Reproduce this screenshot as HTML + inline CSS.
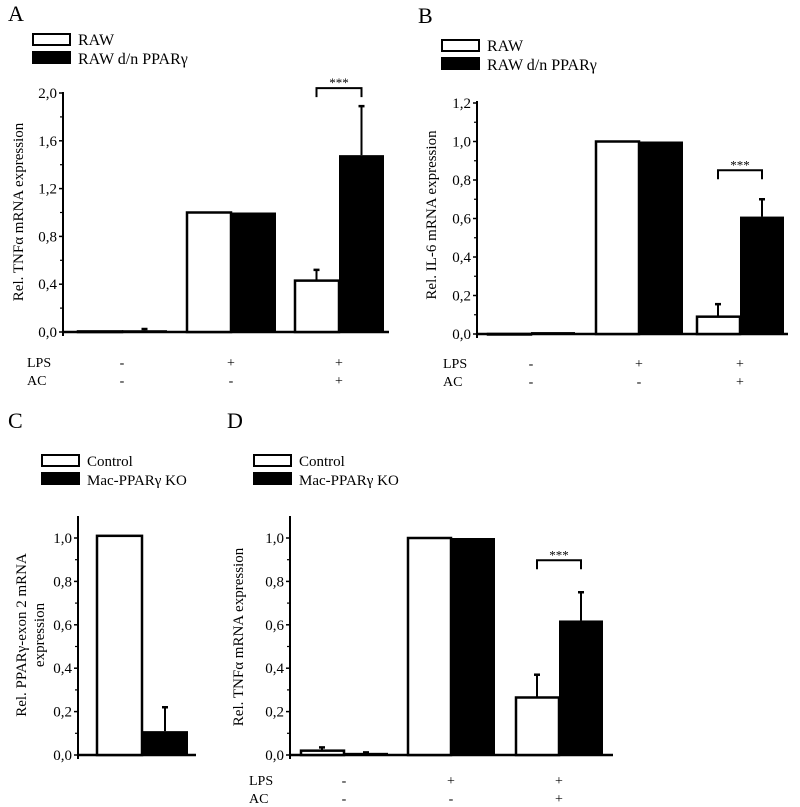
<!DOCTYPE html>
<html><head><meta charset="utf-8"><style>
body{margin:0;background:#fff}
svg{display:block;font-family:"Liberation Serif",serif}
</style></head><body>
<svg id="fig" width="800" height="807" viewBox="0 0 800 807" xmlns="http://www.w3.org/2000/svg"></svg>
<script>
// Panel A data
const aGroups = ["g1","g2","g3"];
const aWhite = [0.005, 1.0, 0.43];
const aWhiteErr = [0, 0, 0.52];
const aBlack = [0.015, 1.0, 1.48];
const aBlackErr = [0.025, 0, 1.89];
const aTicks = ["0,0","0,4","0,8","1,2","1,6","2,0"];
// Panel B data
const bWhite = [0, 1.0, 0.09];
const bWhiteErr = [0, 0, 0.155];
const bBlack = [0.01, 1.0, 0.61];
const bBlackErr = [0, 0, 0.70];
const bTicks = ["0,0","0,2","0,4","0,6","0,8","1,0","1,2"];
// Panel C data
const cWhite = [1.01];
const cWhiteErr = [0];
const cBlack = [0.11];
const cBlackErr = [0.22];
const cTicks = ["0,0","0,2","0,4","0,6","0,8","1,0"];
// Panel D data
const dWhite = [0.02, 1.0, 0.265];
const dWhiteErr = [0.035, 0, 0.37];
const dBlack = [0.01, 1.0, 0.62];
const dBlackErr = [0.012, 0, 0.75];
const dTicks = ["0,0","0,2","0,4","0,6","0,8","1,0"];
const lpsRow = ["-","+","+"];
const acRow = ["-","-","+"];

const svg = document.getElementById('fig');
const NS = "http://www.w3.org/2000/svg";
function mk(tag, attrs, parent){const e=document.createElementNS(NS,tag);for(const k in attrs)e.setAttribute(k,attrs[k]);(parent||svg).appendChild(e);return e;}
function txt(s, attrs, parent){const e=mk('text',attrs,parent);e.textContent=s;return e;}

function panel(p){
  const g = mk('g',{});
  
  
  const yScale = v => p.y0 - (v/p.tickStep)*p.tickPx;
  const L = txt(p.letter,{x:p.letterX,y:p.letterY,'font-size':22},g);
  
  
  const lw = mk('rect',{x:p.legX+1,y:p.legY+1,width:37,height:11,fill:'#fff',stroke:'#000','stroke-width':2},g);
  
  
  const lb = mk('rect',{x:p.legX,y:p.legY+18,width:39,height:13,fill:'#000'},g);
  
  
  const t1 = txt(p.leg1,{x:p.legX+46,y:p.legY+12,'font-size':p.legFs},g);
  
  
  const t2 = txt(p.leg2,{x:p.legX+46,y:p.legY+31,'font-size':p.legFs},g);
  
  
  const ya = mk('line',{x1:p.ax,y1:p.y0+4,x2:p.ax,y2:p.axTop,stroke:'#000','stroke-width':2},g);
  
  
  const xa = mk('line',{x1:p.ax,y1:p.y0,x2:p.axRight,y2:p.y0,stroke:'#000','stroke-width':2.5},g);
  
  
  p.ticks.forEach((t,i)=>{
    const y = p.y0 - i*p.tickPx;
    mk('line',{x1:p.ax-4,y1:y,x2:p.ax,y2:y,stroke:'#000','stroke-width':1.5},g);
    const tl = txt(t,{x:p.ax-6,y:y+5,'font-size':15,'text-anchor':'end'},g);
    
    
    if(i<p.ticks.length-1){const ym=y-p.tickPx/2;mk('line',{x1:p.ax-3,y1:ym,x2:p.ax,y2:ym,stroke:'#000','stroke-width':1.2},g);}
  });
  p.ylab.forEach((s,i)=>{
    const yt = txt(s,{x:0,y:0,'font-size':15,'text-anchor':'middle',transform:`translate(${p.ylabX+i*18},${p.ylabY}) rotate(-90)`},g);
    
    
  });
  function bar(v,err,x,black){
    const y=yScale(v);
    if(err>v){
      const ye=yScale(err);
      mk('line',{x1:x+p.bw/2,y1:y,x2:x+p.bw/2,y2:ye,stroke:'#000','stroke-width':2},g);
      mk('line',{x1:x+p.bw/2-3,y1:ye,x2:x+p.bw/2+3,y2:ye,stroke:'#000','stroke-width':2.5},g);
    }
    const r = mk('rect',{x:black?x:x+1,y:y,width:black?p.bw:p.bw-1,height:Math.max(p.y0-y,0.5),fill:black?'#000':'#fff',stroke:'#000','stroke-width':black?0:2.5},g);
    
    
  }
  p.white.forEach((v,i)=>{
    const x0 = p.gx[i];
    bar(v,p.whiteErr[i],x0,false);
    bar(p.black[i],p.blackErr[i],x0+p.bw,true);
  });
  if(p.sig!=null){
    const i=p.sig, x0=p.gx[i]+p.bw/2, x1=x0+p.bw;
    const yb = yScale(Math.max(p.white[i]+0, p.blackErr[i]))-p.sigOff;
    const br = mk('path',{d:`M${x0},${yb+9}V${yb}H${x1}V${yb+9}`,fill:'none',stroke:'#000','stroke-width':2},g);
    
    
    const st = txt('***',{x:(x0+x1)/2,y:yb-1,'font-size':13,'text-anchor':'middle'},g);
    
    
  }
  if(p.rows){
    const l1=txt('LPS',{x:p.rowLabX,y:p.rowY,'font-size':14},g);
    
    
    const l2=txt('AC',{x:p.rowLabX,y:p.rowY+18,'font-size':14},g);
    
    
    lpsRow.forEach((s,i)=>{
      const cx=p.gx[i]+p.bw;
      const a=txt(s,{x:cx,y:p.rowY,'font-size':14,'text-anchor':'middle'},g);
      
      
      const b=txt(acRow[i],{x:cx,y:p.rowY+18,'font-size':14,'text-anchor':'middle'},g);
      
      
    });
  }
}

panel({id:'a',letter:'A',letterX:8,letterY:21,legX:32,legY:33,leg1:'RAW',leg2:'RAW d/n PPARγ',legFs:16,
  ax:63,y0:332,axTop:92,axRight:389,tickStep:0.4,tickPx:47.8,ticks:aTicks,
  ylab:['Rel. TNFα mRNA expression'],ylabX:23,ylabY:212,
  gx:[77,186,294],bw:45,white:aWhite,whiteErr:aWhiteErr,black:aBlack,blackErr:aBlackErr,sig:2,sigOff:18,
  rows:true,rowLabX:27,rowY:367});
panel({id:'b',letter:'B',letterX:418,letterY:23,legX:441,legY:39,leg1:'RAW',leg2:'RAW d/n PPARγ',legFs:16,
  ax:477,y0:334,axTop:101,axRight:788,tickStep:0.2,tickPx:38.5,ticks:bTicks,
  ylab:['Rel. IL-6  mRNA expression'],ylabX:436,ylabY:215,
  gx:[487,595,696],bw:44,white:bWhite,whiteErr:bWhiteErr,black:bBlack,blackErr:bBlackErr,sig:2,sigOff:29,
  rows:true,rowLabX:443,rowY:368});
panel({id:'c',letter:'C',letterX:8,letterY:428,legX:41,legY:454,leg1:'Control',leg2:'Mac-PPARγ KO',legFs:15,
  ax:78,y0:755,axTop:516,axRight:196,tickStep:0.2,tickPx:43.4,ticks:cTicks,
  ylab:['Rel. PPARγ-exon 2  mRNA','expression'],ylabX:26,ylabY:635,
  gx:[96],bw:46,white:cWhite,whiteErr:cWhiteErr,black:cBlack,blackErr:cBlackErr,sig:null,rows:false});
panel({id:'d',letter:'D',letterX:227,letterY:428,legX:253,legY:454,leg1:'Control',leg2:'Mac-PPARγ KO',legFs:15,
  ax:290,y0:755,axTop:516,axRight:613,tickStep:0.2,tickPx:43.4,ticks:dTicks,
  ylab:['Rel. TNFα mRNA expression'],ylabX:243,ylabY:637,
  gx:[300,407,515],bw:44,white:dWhite,whiteErr:dWhiteErr,black:dBlack,blackErr:dBlackErr,sig:2,sigOff:32,
  rows:true,rowLabX:249,rowY:785});
</script>
</body></html>
